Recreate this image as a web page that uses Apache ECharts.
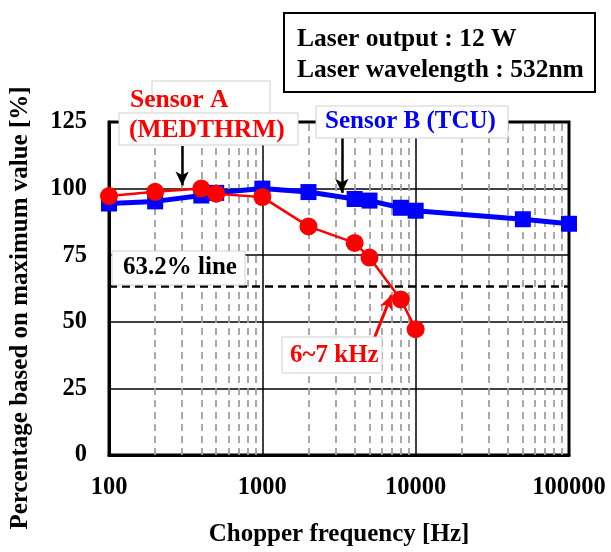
<!DOCTYPE html>
<html><head><meta charset="utf-8">
<script src="https://cdn.jsdelivr.net/npm/echarts@6/dist/echarts.min.js"></script>
<style>html,body{margin:0;padding:0;background:#fff}#c{width:611px;height:552px}</style>
</head><body><div id="c"></div>
<script>
const freqA = [100, 200, 400, 500, 1000, 2000, 4000, 5000, 8000, 10000];
const sensorA = [97.2, 98.8, 100, 98.1, 96.8, 85.8, 79.6, 74.1, 58.4, 47.2];
const freqB = [100, 200, 400, 500, 1000, 2000, 4000, 5000, 8000, 10000, 50000, 100000];
const sensorB = [94.4, 95.2, 97.4, 98.4, 100, 98.7, 96.1, 95.5, 92.8, 91.7, 88.5, 86.8];
const minorTicks = [200,300,400,500,600,700,800,900,2000,3000,4000,5000,6000,7000,8000,9000,20000,30000,40000,50000,60000,70000,80000,90000];
const yTicks = [0, 25, 50, 75, 100, 125];
const refLevel = 63.2;
const arrowA = [[300, 116], [300, 101.2]];
const arrowB = [[3300, 119], [3300, 98.4]];
const arrowKHz = [[5300, 43], [6950, 60]];

const serif = '"Liberation Serif", "Times New Roman", serif';
const chart = echarts.init(document.getElementById('c'));

function box(x, y, w, h, stroke) {
  return {type:'rect', shape:{x:x, y:y, width:w, height:h}, style:{fill:'#fff', stroke:stroke, lineWidth:1}, z:50};
}
function txt(x, y, t, color, size) {
  return {type:'text', x:x, y:y, style:{text:t, fill:color, font:'bold ' + (size||25) + 'px ' + serif, textVerticalAlign:'middle'}, z:51};
}

chart.setOption({
  animation:false,
  grid:{left:109, right:42, top:122, bottom:88, show:true, borderColor:'#000', borderWidth:3, backgroundColor:'#fff'},
  xAxis:{type:'log', min:100, max:100000, logBase:10,
    axisLine:{lineStyle:{color:'#000', width:3}}, axisTick:{show:false},
    axisLabel:{margin:20, color:'#000', fontFamily:serif, fontWeight:'bold', fontSize:24.5,
      formatter:v=>String(Math.round(v))},
    splitLine:{show:true, lineStyle:{color:'#000', width:1.5}},
    name:'Chopper frequency [Hz]', nameLocation:'middle', nameGap:67,
    nameTextStyle:{color:'#000', fontFamily:serif, fontWeight:'bold', fontSize:25}},
  yAxis:{type:'value', min:yTicks[0], max:yTicks[yTicks.length-1], interval:25,
    axisLine:{lineStyle:{color:'#000', width:3}}, axisTick:{show:false},
    axisLabel:{margin:22, color:'#000', fontFamily:serif, fontWeight:'bold', fontSize:24.5},
    splitLine:{show:true, lineStyle:{color:'#000', width:1.5}}},
  series:[
    {type:'line', name:'minor', data:[], silent:true, z:1,
      markLine:{silent:true, symbol:'none', label:{show:false},
        lineStyle:{color:'#a0a0a0', type:[7,5], width:1.8},
        data: minorTicks.map(v=>({xAxis:v}))}},
    {type:'line', name:'ref', data:[], silent:true, z:2,
      markLine:{silent:true, symbol:'none', label:{show:false},
        lineStyle:{color:'#000', type:[8,5], width:2.5},
        data:[{yAxis:refLevel}]}},
    {type:'line', name:'Sensor B', data:freqB.map((f,i)=>[f, sensorB[i]]), z:5,
      lineStyle:{color:'#0000ff', width:5}, itemStyle:{color:'#0000ff'},
      symbol:'rect', symbolSize:16, showSymbol:true},
    {type:'line', name:'Sensor A', data:freqA.map((f,i)=>[f, sensorA[i]]), z:6,
      lineStyle:{color:'#ff0000', width:2.5}, itemStyle:{color:'#ff0000'},
      symbol:'circle', symbolSize:18, showSymbol:true},
    {type:'line', name:'arrows', data:[], silent:true, z:60,
      markLine:{silent:true, symbol:['none','arrow'], symbolSize:[10,14], label:{show:false},
        data:[
          [{coord:arrowA[0], lineStyle:{color:'#000', width:2.5, type:'solid'}}, {coord:arrowA[1]}],
          [{coord:arrowB[0], lineStyle:{color:'#000', width:2.5, type:'solid'}}, {coord:arrowB[1]}],
          [{coord:arrowKHz[0], lineStyle:{color:'#ff0000', width:3, type:'solid'}}, {coord:arrowKHz[1]}]
        ]}}
  ],
  graphic:[
    {type:'text', x:21, y:308, rotation:Math.PI/2,
      style:{text:'Percentage based on maximum value [%]', fill:'#000', font:'bold 25px ' + serif,
        textAlign:'center', textVerticalAlign:'middle'}},
    {type:'rect', shape:{x:284, y:13, width:311, height:79}, style:{fill:'#fff', stroke:'#000', lineWidth:2}, z:50},
    txt(297, 39, 'Laser output : 12 W', '#000', 25.5),
    txt(297, 70, 'Laser wavelength : 532nm', '#000', 25.5),
    box(152, 81, 118, 60, '#d0d0d0'),
    box(119, 113, 179, 32, '#d0d0d0'),
    txt(130, 100, 'Sensor A', '#ff0000', 25.5),
    txt(129, 130, '(MEDTHRM)', '#ff0000', 25.5),
    box(316, 106, 192, 32, '#d0d0d0'),
    txt(325, 122, 'Sensor B (TCU)', '#0000ff', 25),
    box(112, 251, 133, 34, '#d0d0d0'),
    txt(123, 268, '63.2% line', '#000', 25),
    box(282, 337, 100, 36, '#d0d0d0'),
    txt(290, 356, '6~7 kHz', '#ff0000', 25)
  ]
});
</script></body></html>
